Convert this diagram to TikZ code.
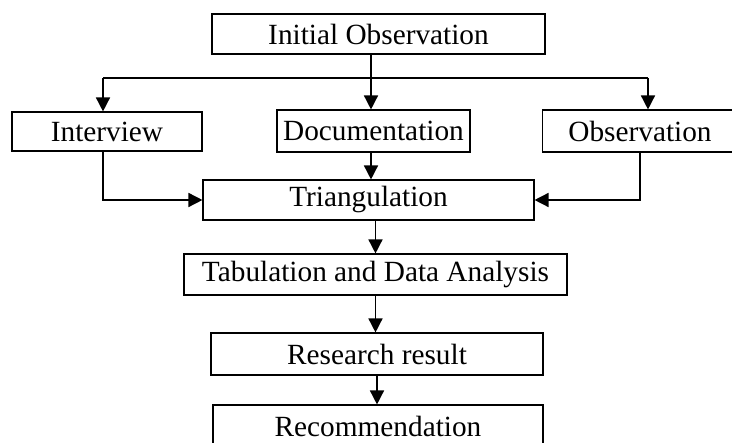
\documentclass[tikz,border=0pt]{standalone}
\usepackage{fontspec}
\setmainfont{Liberation Serif}
\usetikzlibrary{arrows.meta}

\begin{document}
\begin{tikzpicture}[x=1pt, y=-1pt,
            box/.style={draw, line width=1.1pt, minimum height=40pt, inner sep=0pt,
                    align=center, font=\fontsize{29.3}{34}\selectfont},
            line/.style={line width=1.5pt},
            arrow/.style={line, -{Triangle[length=14pt, width=14pt]}}
        ]
        \useasboundingbox (0,0) rectangle (732,443);
        \clip (0,0) rectangle (732,443);

        \node[box, minimum width=333pt] (init) at (378.5,34) {Initial Observation};
        \node[box, minimum width=190pt, minimum height=39pt] (interview) at (107,131.5) {Interview};
        \node[box, minimum width=193pt, minimum height=42pt] (doc) at (373.5,131) {Documentation};
        \node[box, minimum width=195pt, minimum height=42pt] (obs) at (640,131) {Observation};
        \node[box, minimum width=331pt] (tri) at (368.5,200) {Triangulation};
        \node[box, minimum width=383pt, minimum height=41pt] (tab) at (375.5,274.5) {Tabulation and Data Analysis};
        \node[box, minimum width=332pt, minimum height=42pt] (res) at (377,354) {Research result};
        \node[box, minimum width=330pt, minimum height=42pt] (rec) at (378,426) {Recommendation};

        % branching line below the first box
        \coordinate (split) at (371,78);
        \coordinate (lbr) at (103,78);
        \coordinate (rbr) at (648,78);
        \draw[line] (split |- init.south) -- (split);
        \draw[line] (lbr) -- (rbr);
        \draw[arrow] (lbr) -- (lbr |- interview.north);
        \draw[arrow] (split) -- (split |- doc.north);
        \draw[arrow] (rbr) -- (rbr |- obs.north);

        % into triangulation
        \draw[arrow] (lbr |- interview.south) |- (tri.west);
        \draw[arrow] (obs.south) |- (tri.east);
        \draw[arrow] (split |- doc.south) -- (split |- tri.north);

        % main chain
        \draw[arrow] (tab.north |- tri.south) -- (tab.north);
        \draw[arrow] (tab.south) -- (tab.south |- res.north);
        \draw[arrow] (res.south) -- (res.south |- rec.north);
    \end{tikzpicture}
\end{document}
